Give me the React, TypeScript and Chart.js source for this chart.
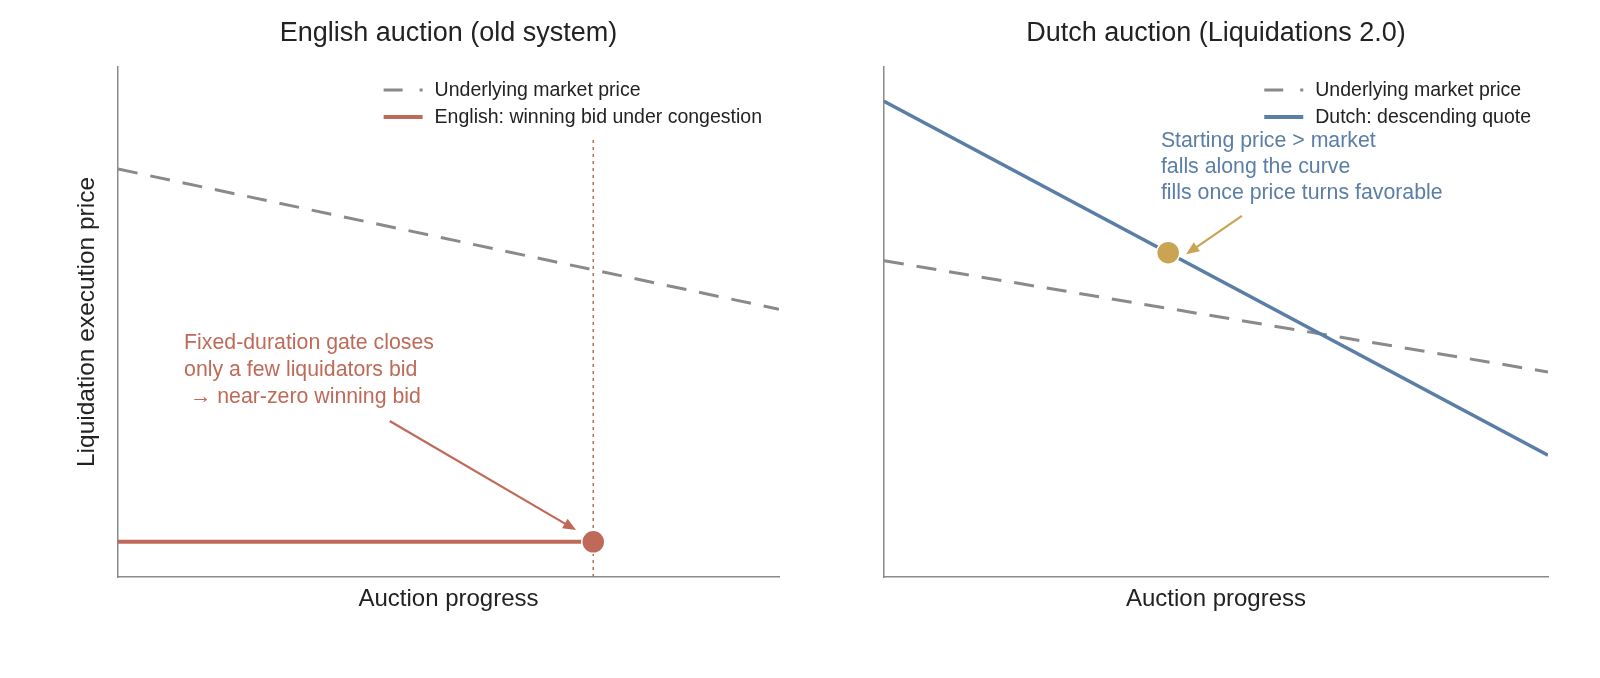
import { useEffect, useRef } from "react";
import { Chart, registerables } from "chart.js";

Chart.register(...registerables);

const FONT = "'Liberation Sans', Arial, Helvetica, sans-serif";

const GRAY = "#8a8a8a";
const RED = "#bf6a58";
const BLUE = "#5a7ea5";
const GOLD = "#c9a553";
const INK = "#222222";

// auction progress runs 0..1, price is on a relative 0..1 scale (no ticks shown)
const progressEnds = [0, 1];

// left panel: English auction
const englishMarket = [0.8, 0.525];
const englishBidX = [0, 0.719];
const englishBid = [0.069, 0.069];
const gateX = [0.719, 0.719];
const gateY = [0, 0.857];
const englishNote = ["Fixed-duration gate closes", "only a few liquidators bid", " \u2192 near-zero winning bid"];
const englishArrow = [0.411, 0.306, 0.693, 0.092]; // x1, y1, x2, y2 in data units

// right panel: Dutch auction
const dutchMarket = [0.62, 0.402];
const dutchQuote = [0.933, 0.239];
const dutchFill = [0.428, 0.636];
const dutchNote = ["Starting price > market", "falls along the curve", "fills once price turns favorable"];
const dutchArrow = [0.539, 0.708, 0.455, 0.633];

type Panel = {
  title: string;
  yTitle: string | null;
  padding: { top: number; left: number; right: number; bottom: number };
  datasets: any[];
  legend: { label: string; color: string; dashed: boolean }[];
  note: { lines: string[]; x: number; y: number; gap: number; color: string };
  arrow: { pts: number[]; color: string };
};

const xy = (xs: number[], ys: number[]) => xs.map((x, i) => ({ x, y: ys[i] }));

function drawArrow(ctx: CanvasRenderingContext2D, x1: number, y1: number, x2: number, y2: number, color: string) {
  const ang = Math.atan2(y2 - y1, x2 - x1);
  const head = 13;
  const half = 5.5;
  ctx.save();
  ctx.strokeStyle = color;
  ctx.fillStyle = color;
  ctx.lineWidth = 2.2;
  ctx.beginPath();
  ctx.moveTo(x1, y1);
  ctx.lineTo(x2 - Math.cos(ang) * head * 0.8, y2 - Math.sin(ang) * head * 0.8);
  ctx.stroke();
  ctx.beginPath();
  ctx.moveTo(x2, y2);
  ctx.lineTo(x2 - Math.cos(ang) * head - Math.sin(ang) * half, y2 - Math.sin(ang) * head + Math.cos(ang) * half);
  ctx.lineTo(x2 - Math.cos(ang) * head + Math.sin(ang) * half, y2 - Math.sin(ang) * head - Math.cos(ang) * half);
  ctx.closePath();
  ctx.fill();
  ctx.restore();
}

const overlay = (panel: Panel) => ({
  id: "overlay",
  afterDraw(chart: Chart) {
    const { ctx, chartArea } = chart;
    const xs = chart.scales.x;
    const ys = chart.scales.y;
    ctx.save();

    // title centred over the plot area
    ctx.fillStyle = INK;
    ctx.font = `27px ${FONT}`;
    ctx.textAlign = "center";
    ctx.textBaseline = "middle";
    ctx.fillText(panel.title, (chartArea.left + chartArea.right) / 2, 34);

    // legend, top right inside the axes
    ctx.font = `19.5px ${FONT}`;
    ctx.textAlign = "left";
    const maxW = Math.max(...panel.legend.map((l) => ctx.measureText(l.label).width));
    const textX = chartArea.right - 17 - maxW;
    panel.legend.forEach((l, i) => {
      const y = chartArea.top + 23 + i * 27;
      ctx.save();
      ctx.strokeStyle = l.color;
      ctx.lineWidth = l.dashed ? 3 : 4;
      ctx.setLineDash(l.dashed ? [19, 17] : []);
      ctx.beginPath();
      ctx.moveTo(textX - 51, y);
      ctx.lineTo(textX - 12, y);
      ctx.stroke();
      ctx.restore();
      ctx.fillStyle = INK;
      ctx.fillText(l.label, textX, y + 1);
    });

    // annotation text
    ctx.font = `21.3px ${FONT}`;
    ctx.fillStyle = panel.note.color;
    const nx = xs.getPixelForValue(panel.note.x);
    const ny = ys.getPixelForValue(panel.note.y);
    panel.note.lines.forEach((line, i) => ctx.fillText(line, nx, ny + i * panel.note.gap));

    const [ax1, ay1, ax2, ay2] = panel.arrow.pts;
    drawArrow(
      ctx,
      xs.getPixelForValue(ax1),
      ys.getPixelForValue(ay1),
      xs.getPixelForValue(ax2),
      ys.getPixelForValue(ay2),
      panel.arrow.color
    );
    ctx.restore();
  },
});

const makeConfig = (panel: Panel): any => ({
  type: "scatter",
  data: { datasets: panel.datasets },
  options: {
    animation: false,
    responsive: true,
    maintainAspectRatio: false,
    layout: { padding: panel.padding },
    plugins: { legend: { display: false }, tooltip: { enabled: false }, title: { display: false } },
    scales: {
      x: {
        type: "linear",
        min: 0,
        max: 1,
        grid: { display: false, drawTicks: false },
        ticks: { display: false },
        border: { display: true, color: GRAY, width: 1.5 },
        title: {
          display: true,
          text: "Auction progress",
          color: INK,
          font: { family: FONT, size: 24 },
          padding: { top: 8, bottom: 4 },
        },
      },
      y: {
        type: "linear",
        min: 0,
        max: 1,
        grid: { display: false, drawTicks: false },
        ticks: { display: false },
        border: { display: true, color: GRAY, width: 1.5 },
        title: {
          display: panel.yTitle !== null,
          text: panel.yTitle ?? "",
          color: INK,
          font: { family: FONT, size: 24.5 },
          padding: { top: 5, bottom: 15.6 },
        },
      },
    },
  },
  plugins: [overlay(panel)],
});

const marketSet = (ys: number[]) => ({
  label: "Underlying market price",
  data: xy(progressEnds, ys),
  showLine: true,
  borderColor: GRAY,
  borderWidth: 3,
  borderDash: [20, 13],
  pointRadius: 0,
  order: 3,
});

const englishPanel: Panel = {
  title: "English auction (old system)",
  yTitle: "Liquidation execution price",
  padding: { top: 67, left: 68, right: 21, bottom: 60.2 },
  datasets: [
    {
      label: "winning bid",
      data: xy([englishBidX[1]], [englishBid[1]]),
      pointRadius: 11.5,
      pointBackgroundColor: RED,
      pointBorderColor: "#ffffff",
      pointBorderWidth: 1.5,
      order: 0,
    },
    {
      label: "English: winning bid under congestion",
      data: xy(englishBidX, englishBid),
      showLine: true,
      borderColor: RED,
      borderWidth: 4,
      pointRadius: 0,
      order: 1,
    },
    {
      label: "gate close",
      data: xy(gateX, gateY),
      showLine: true,
      borderColor: RED,
      borderWidth: 1.5,
      borderDash: [3, 4],
      pointRadius: 0,
      order: 2,
    },
    marketSet(englishMarket),
  ],
  legend: [
    { label: "Underlying market price", color: GRAY, dashed: true },
    { label: "English: winning bid under congestion", color: RED, dashed: false },
  ],
  note: { lines: englishNote, x: 0.1, y: 0.459, gap: 27, color: RED },
  arrow: { pts: englishArrow, color: RED },
};

const dutchPanel: Panel = {
  title: "Dutch auction (Liquidations 2.0)",
  yTitle: null,
  padding: { top: 67, left: 84, right: 52, bottom: 60.2 },
  datasets: [
    {
      label: "fill",
      data: xy([dutchFill[0]], [dutchFill[1]]),
      pointRadius: 11.5,
      pointBackgroundColor: GOLD,
      pointBorderColor: "#ffffff",
      pointBorderWidth: 1.5,
      order: 0,
    },
    {
      label: "Dutch: descending quote",
      data: xy(progressEnds, dutchQuote),
      showLine: true,
      borderColor: BLUE,
      borderWidth: 3.5,
      pointRadius: 0,
      order: 1,
    },
    marketSet(dutchMarket),
  ],
  legend: [
    { label: "Underlying market price", color: GRAY, dashed: true },
    { label: "Dutch: descending quote", color: BLUE, dashed: false },
  ],
  note: { lines: dutchNote, x: 0.417, y: 0.855, gap: 26, color: BLUE },
  arrow: { pts: dutchArrow, color: GOLD },
};

function PanelChart({ panel }: { panel: Panel }) {
  const canvasRef = useRef<HTMLCanvasElement>(null);

  useEffect(() => {
    const ctx = canvasRef.current?.getContext("2d");
    if (!ctx) return;
    const chart = new Chart(ctx, makeConfig(panel));
    return () => {
      chart.destroy();
    };
  }, [panel]);

  return (
    <div style={{ position: "relative", width: 800, height: 678 }}>
      <canvas ref={canvasRef} />
    </div>
  );
}

export default function App() {
  return (
    <div style={{ position: "absolute", left: 0, top: 0, width: 1600, height: 678, display: "flex", background: "#ffffff" }}>
      <PanelChart panel={englishPanel} />
      <PanelChart panel={dutchPanel} />
    </div>
  );
}
